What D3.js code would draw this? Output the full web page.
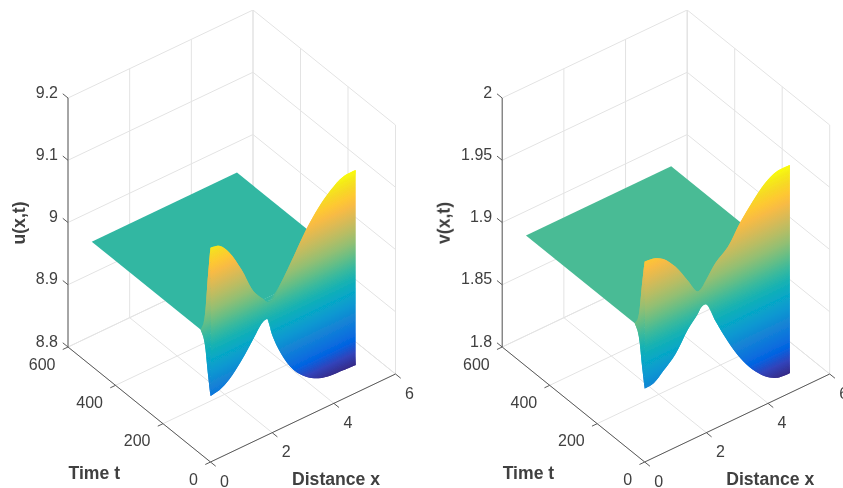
<!DOCTYPE html>
<html>
<head>
<meta charset="utf-8">
<script src="https://cdn.jsdelivr.net/npm/d3@7"></script>
<style>
  html, body { margin: 0; background: #fff; overflow: hidden; }
  text { font-family: "Liberation Sans", Arial, sans-serif; fill: #404040; }
  .tick { font-size: 16px; }
  .title { font-size: 17.6px; font-weight: bold; }
</style>
</head>
<body>
<svg id="chart" width="843" height="488"></svg>
<script>
/* global d3 */

// distance samples along the rod, last one is the end of the domain
var xGrid = [0, 0.3, 0.6, 1, 1.4, 1.7, 1.85, 2, 2.3, 2.7, 3.1, 3.5, 3.9, 4.3, 4.71];

// top and bottom of the early oscillation
var uUpper = [9.144, 9.140, 9.123, 9.086, 9.041, 9.022, 9.013, 9.014, 9.035, 9.067, 9.100, 9.126, 9.145, 9.157, 9.158];
var uLower = [8.906, 8.909, 8.918, 8.939, 8.966, 8.985, 8.986, 8.957, 8.919, 8.884, 8.864, 8.852, 8.847, 8.846, 8.845];
var vUpper = [1.961, 1.960, 1.956, 1.945, 1.929, 1.917, 1.918, 1.923, 1.933, 1.941, 1.956, 1.968, 1.978, 1.983, 1.983];
var vLower = [1.859, 1.860, 1.866, 1.875, 1.890, 1.898, 1.903, 1.903, 1.886, 1.865, 1.847, 1.833, 1.823, 1.817, 1.816];

// how much of the oscillation is left at each time
var tSteps = [0, 3, 6, 9, 12, 15, 18, 21, 25, 30, 36, 42];
var decay = [1, 0.92, 0.82, 0.72, 0.62, 0.5, 0.38, 0.27, 0.17, 0.09, 0.04, 0];

var tEnd = 500;
var uSteady = 9;
var vSteady = 1.905;

var xTicks = [0, 2, 4, 6];
var tTicks = [0, 200, 400, 600];
var uTicks = [8.8, 8.9, 9, 9.1, 9.2];
var vTicks = [1.8, 1.85, 1.9, 1.95, 2];

// matlab parula, entry number in the 64 colour map and its rgb
var parulaIndex = [0, 4, 8, 13, 16, 20, 24, 28, 32, 36, 40, 44, 48, 52, 55, 58, 61, 63];
var parula = [
  [0.2081, 0.1663, 0.5292], [0.1959, 0.2645, 0.7279], [0.0117, 0.3875, 0.8820], [0.0629, 0.4737, 0.8554],
  [0.0793, 0.5200, 0.8312], [0.0343, 0.5966, 0.8199], [0.0228, 0.6535, 0.7768], [0.0843, 0.6928, 0.7062],
  [0.2178, 0.7250, 0.6193], [0.3953, 0.7459, 0.5244], [0.5709, 0.7485, 0.4494], [0.7184, 0.7411, 0.3905],
  [0.8507, 0.7299, 0.3360], [0.9739, 0.7314, 0.2666], [0.9955, 0.7861, 0.1967], [0.9697, 0.8481, 0.1475],
  [0.9598, 0.9218, 0.0948], [0.9763, 0.9831, 0.0538]
].map(c => d3.rgb(c[0] * 255, c[1] * 255, c[2] * 255).formatHex());

var svg = d3.select('#chart');
var defs = svg.append('defs');
defs.append('filter').attr('id', 'soft')
  .attr('x', 0).attr('y', 0).attr('width', 1).attr('height', 1)
  .attr('filterUnits', 'objectBoundingBox')
  .append('feGaussianBlur').attr('stdDeviation', 0.4);

function drawPanel(opts) {
  var g = svg.append('g');
  var zTicks = opts.zTicks;
  var zExtent = d3.extent(zTicks);

  var xToX = d3.scaleLinear().domain([0, 6]).range([opts.ox, opts.ox + 185]);
  var xToY = d3.scaleLinear().domain([0, 6]).range([0, -88]);
  var tToX = d3.scaleLinear().domain([0, 600]).range([0, -142.5]);
  var tToY = d3.scaleLinear().domain([0, 600]).range([0, -115]);
  var zToY = d3.scaleLinear().domain(zExtent).range([462, 213]);

  var project = (x, t, z) => [xToX(x) + tToX(t), zToY(z) + xToY(x) + tToY(t)];

  var colorDomain = [d3.min(opts.lower), d3.max(opts.upper)];
  var color = d3.scaleLinear()
    .domain(parulaIndex.map(i => colorDomain[0] + (colorDomain[1] - colorDomain[0]) * i / 63))
    .range(parula);

  // colour follows z, so the isolines run parallel to the x direction
  var gradientCount = 0;
  function gradientAt(t) {
    var start = project(0, t, colorDomain[0]);
    var top = project(0, t, colorDomain[1]);
    var dirX = xToX(6) - xToX(0), dirY = xToY(6) - xToY(0);
    var len = Math.hypot(dirX, dirY);
    var nx = -dirY / len, ny = dirX / len;
    var along = (top[0] - start[0]) * nx + (top[1] - start[1]) * ny;
    var id = opts.name + '-grad-' + gradientCount++;

    var grad = defs.append('linearGradient').attr('id', id)
      .attr('gradientUnits', 'userSpaceOnUse')
      .attr('x1', start[0]).attr('y1', start[1])
      .attr('x2', start[0] + nx * along).attr('y2', start[1] + ny * along);
    grad.selectAll('stop').data(parulaIndex).enter().append('stop')
      .attr('offset', d => d / 63)
      .attr('stop-color', (d, i) => parula[i]);
    return 'url(#' + id + ')';
  }

  // back walls and floor
  var gridSegments = [];
  xTicks.forEach(x => {
    gridSegments.push([project(x, 0, zExtent[0]), project(x, 600, zExtent[0])]);
    gridSegments.push([project(x, 600, zExtent[0]), project(x, 600, zExtent[1])]);
  });
  tTicks.forEach(t => {
    gridSegments.push([project(0, t, zExtent[0]), project(6, t, zExtent[0])]);
    gridSegments.push([project(6, t, zExtent[0]), project(6, t, zExtent[1])]);
  });
  zTicks.forEach(z => {
    gridSegments.push([project(0, 600, z), project(6, 600, z)]);
    gridSegments.push([project(6, 600, z), project(6, 0, z)]);
  });

  g.append('g').selectAll('line')
    .data(gridSegments).enter()
    .append('line')
    .attr('x1', d => d[0][0]).attr('y1', d => d[0][1])
    .attr('x2', d => d[1][0]).attr('y2', d => d[1][1])
    .attr('stroke', '#e3e3e3').attr('stroke-width', 1);

  // settled part of the surface
  var xEnd = xGrid[xGrid.length - 1];
  var tSettled = tSteps[tSteps.length - 1];
  var corners = [[0, tSettled], [xEnd, tSettled], [xEnd, tEnd], [0, tEnd]];
  g.append('polygon')
    .attr('points', corners.map(c => project(c[0], c[1], opts.steady).join(',')).join(' '))
    .attr('fill', color(opts.steady));

  // rows of the decaying envelope, one list per time
  var rowsOf = env => tSteps.map((t, k) =>
    xGrid.map((x, i) => project(x, t, opts.steady + decay[k] * (env[i] - opts.steady))));
  var upperRows = rowsOf(opts.upper);
  var lowerRows = rowsOf(opts.lower);

  var band = d3.area()
    .x0(d => d[0][0]).y0(d => d[0][1])
    .x1(d => d[1][0]).y1(d => d[1][1])
    .curve(d3.curveCatmullRom.alpha(0.5));

  // both envelope sheets, back to front
  d3.range(tSteps.length - 2, -1, -1).forEach(k => {
    var fill = gradientAt((tSteps[k] + tSteps[k + 1]) / 2);
    [upperRows, lowerRows].forEach(rows => {
      g.append('path')
        .attr('d', band(d3.zip(rows[k], rows[k + 1])))
        .attr('fill', fill);
    });
  });

  // the edge at x = 0 between the two sheets
  var edge = d3.zip(upperRows.map(r => r[0]), lowerRows.map(r => r[0]));
  g.append('path')
    .attr('d', band(edge))
    .attr('fill', gradientAt(10));

  // the front ribbon where the rows fold over
  g.append('path')
    .attr('d', band(d3.zip(upperRows[0], lowerRows[0])))
    .attr('fill', gradientAt(0));

  // axis lines and ticks
  var axisSegments = [
    [project(0, 0, zExtent[0]), project(6, 0, zExtent[0])],
    [project(0, 0, zExtent[0]), project(0, 600, zExtent[0])],
    [project(0, 600, zExtent[0]), project(0, 600, zExtent[1])]
  ];
  xTicks.forEach(x => axisSegments.push([project(x, 0, zExtent[0]), project(x, -22, zExtent[0])]));
  tTicks.forEach(t => axisSegments.push([project(0, t, zExtent[0]), project(-0.17, t, zExtent[0])]));
  zTicks.forEach(z => axisSegments.push([project(0, 600, z), project(0, 622, z)]));

  g.append('g').selectAll('line')
    .data(axisSegments).enter()
    .append('line')
    .attr('x1', d => d[0][0]).attr('y1', d => d[0][1])
    .attr('x2', d => d[1][0]).attr('y2', d => d[1][1])
    .attr('stroke', '#5a5a5a').attr('stroke-width', 1);

  // tick labels
  g.append('g').selectAll('text')
    .data(xTicks).enter()
    .append('text').attr('class', 'tick')
    .attr('x', d => project(d, 0, zExtent[0])[0] + 14)
    .attr('y', d => project(d, 0, zExtent[0])[1] + 24.5)
    .attr('text-anchor', 'middle')
    .text(d => d);

  g.append('g').selectAll('text')
    .data(tTicks).enter()
    .append('text').attr('class', 'tick')
    .attr('x', d => project(0, d, zExtent[0])[0] - 12.5)
    .attr('y', d => project(0, d, zExtent[0])[1] + 22.5)
    .attr('text-anchor', 'end')
    .text(d => d);

  g.append('g').selectAll('text')
    .data(zTicks).enter()
    .append('text').attr('class', 'tick')
    .attr('x', d => project(0, 600, d)[0] - 10)
    .attr('y', d => project(0, 600, d)[1] - 0.5)
    .attr('text-anchor', 'end')
    .text(d => d);

  // axis titles
  g.append('text').attr('class', 'title')
    .attr('x', opts.ox + 81.5).attr('y', 485)
    .text('Distance x');
  g.append('text').attr('class', 'title')
    .attr('x', opts.ox - 142).attr('y', 479)
    .text('Time t');
  g.append('text').attr('class', 'title')
    .attr('transform', 'translate(' + (opts.ox + opts.zLabelDx) + ',223) rotate(-90)')
    .attr('text-anchor', 'middle')
    .text(opts.zLabel);

  g.attr('filter', 'url(#soft)');
}

drawPanel({
  name: 'u', ox: 210.5, zTicks: uTicks, upper: uUpper, lower: uLower,
  steady: uSteady, zLabel: 'u(x,t)', zLabelDx: -186
});
drawPanel({
  name: 'v', ox: 644.7, zTicks: vTicks, upper: vUpper, lower: vLower,
  steady: vSteady, zLabel: 'v(x,t)', zLabelDx: -195
});
</script>
</body>
</html>
